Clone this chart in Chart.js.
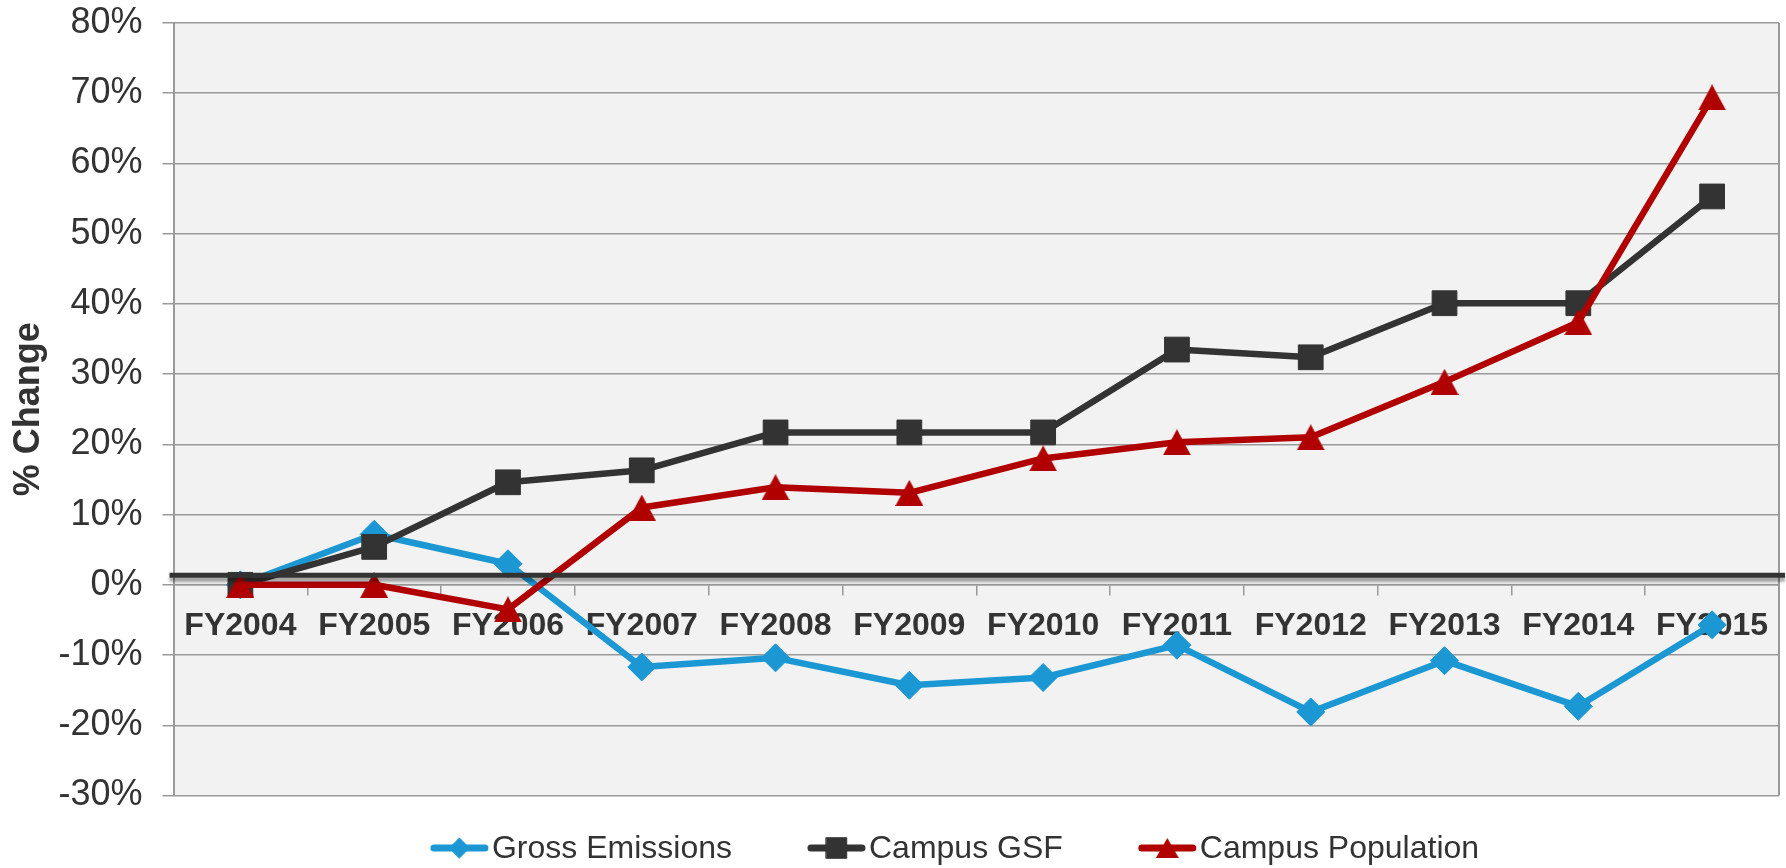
<!DOCTYPE html>
<html>
<head>
<meta charset="utf-8">
<title>% Change</title>
<script src="https://cdn.jsdelivr.net/npm/chart.js@4.4.1/dist/chart.umd.min.js"></script>
<style>
  html, body { margin: 0; padding: 0; background: #fff; }
  #wrap { width: 1786px; height: 868px; }
</style>
</head>
<body>
<div id="wrap"><canvas id="chart"></canvas></div>
<script>
// values (percent change vs FY2004)
const years = ['FY2004', 'FY2005', 'FY2006', 'FY2007', 'FY2008', 'FY2009',
               'FY2010', 'FY2011', 'FY2012', 'FY2013', 'FY2014', 'FY2015'];
const grossEmissions   = [0, 7.2, 3.0, -11.7, -10.4, -14.3, -13.2, -8.6, -18.1, -10.8, -17.3, -5.7];
const campusGSF        = [0, 5.4, 14.6, 16.3, 21.7, 21.7, 21.7, 33.5, 32.4, 40.1, 40.1, 55.3];
const campusPopulation = [0, 0, -3.5, 11.0, 13.9, 13.1, 18.0, 20.3, 21.0, 28.9, 37.4, 69.4];
const yMin = -30, yMax = 80, yStep = 10;
const baselineValue = 1.35; // the heavy dark rule drawn just above 0%

const FONT = "'Liberation Sans', Arial, sans-serif";
const BLUE = '#1b98d4', DARK = '#333333', RED = '#b00000';

// triangle marker as an image so it sits centred on the value like the original
function triangle(w, h, color) {
    const c = document.createElement('canvas');
    c.width = w; c.height = h;
    const g = c.getContext('2d');
    g.fillStyle = color;
    g.beginPath();
    g.moveTo(w / 2, 0);
    g.lineTo(w, h);
    g.lineTo(0, h);
    g.closePath();
    g.fill();
    return c;
}
const triBig = triangle(28, 26, RED);
const triSmall = triangle(23, 20, RED);

const plotDecor = {
    id: 'plotDecor',
    beforeDraw(chart, args, opts) {
        const { ctx, chartArea: a } = chart;
        ctx.save();
        ctx.fillStyle = opts.background;
        ctx.fillRect(a.left, a.top, a.right - a.left, a.bottom - a.top);
        ctx.restore();
    },
    beforeDatasetsDraw(chart, args, opts) {
        const { ctx, chartArea: a } = chart;
        ctx.save();
        ctx.strokeStyle = opts.frameColor;
        ctx.lineWidth = 2;
        ctx.beginPath();
        ctx.moveTo(a.right, a.top);
        ctx.lineTo(a.right, a.bottom);
        ctx.stroke();
        ctx.restore();
    },
    afterDatasetsDraw(chart, args, opts) {
        const { ctx, chartArea: a } = chart;
        const y = chart.scales.y.getPixelForValue(baselineValue);
        ctx.save();
        ctx.shadowColor = 'rgba(0,0,0,0.35)';
        ctx.shadowOffsetY = 4;
        ctx.shadowBlur = 3;
        ctx.strokeStyle = opts.ruleColor;
        ctx.lineWidth = 5;
        ctx.beginPath();
        ctx.moveTo(a.left - 4, y);
        ctx.lineTo(a.right + 6, y);
        ctx.stroke();
        ctx.restore();
    }
};

// legend drawn as line + marker like the original
const lineLegend = {
    id: 'lineLegend',
    afterDraw(chart, args, opts) {
        const ctx = chart.ctx;
        ctx.save();
        ctx.font = opts.fontSize + 'px ' + FONT;
        const items = chart.data.datasets.map(ds => ({
            ds, w: opts.lineLength + opts.textGap + ctx.measureText(ds.label).width
        }));
        const total = items.reduce((s, it) => s + it.w, 0) + opts.itemGap * (items.length - 1);
        let x = opts.centerX - total / 2;
        const y = opts.y;
        items.forEach(({ ds, w }) => {
            ctx.strokeStyle = ds.borderColor;
            ctx.fillStyle = ds.borderColor;
            ctx.lineWidth = opts.lineWidth;
            ctx.lineCap = 'round';
            ctx.beginPath();
            ctx.moveTo(x + 3, y);
            ctx.lineTo(x + opts.lineLength - 3, y);
            ctx.stroke();
            ctx.lineWidth = 1;
            Chart.helpers.drawPoint(ctx, {
                pointStyle: ds.legendStyle, radius: ds.legendRadius, borderWidth: 1, rotation: 0
            }, x + opts.lineLength / 2, y);
            ctx.fillStyle = opts.color;
            ctx.textAlign = 'left';
            ctx.textBaseline = 'middle';
            ctx.fillText(ds.label, x + opts.lineLength + opts.textGap, y + 1);
            x += w + opts.itemGap;
        });
        ctx.restore();
    }
};

const ctx = document.getElementById('chart').getContext('2d');
new Chart(ctx, {
    type: 'line',
    data: {
        labels: years,
        datasets: [{
            label: 'Gross Emissions',
            data: grossEmissions,
            borderColor: BLUE,
            backgroundColor: BLUE,
            pointStyle: 'rectRot',
            pointRadius: 14,
            legendStyle: 'rectRot',
            legendRadius: 10,
            order: 2
        }, {
            label: 'Campus GSF',
            data: campusGSF,
            borderColor: DARK,
            backgroundColor: DARK,
            pointStyle: 'rect',
            pointRadius: 17.5,
            legendStyle: 'rect',
            legendRadius: 14.5,
            order: 1
        }, {
            label: 'Campus Population',
            data: campusPopulation,
            borderColor: RED,
            backgroundColor: RED,
            pointStyle: triBig,
            pointRadius: 14,
            legendStyle: triSmall,
            legendRadius: 12,
            order: 0
        }]
    },
    options: {
        responsive: true,
        maintainAspectRatio: false,
        animation: false,
        elements: {
            line: { borderWidth: 6.5, tension: 0, borderJoinStyle: 'round', borderCapStyle: 'round', fill: false },
            point: { borderWidth: 1, hoverRadius: 14 }
        },
        layout: { autoPadding: false, padding: { left: 4, right: 7, top: 23, bottom: 72.5 } },
        scales: {
            x: {
                position: { y: 0 },
                offset: true,
                grid: {
                    drawOnChartArea: false,
                    drawTicks: true,
                    tickLength: 10,
                    color: '#999',
                    lineWidth: 1.5,
                    offset: true
                },
                border: { display: true, color: '#999', width: 1.5 },
                ticks: {
                    autoSkip: false,
                    maxRotation: 0,
                    padding: 12,
                    color: '#333',
                    font: { family: FONT, size: 32, weight: 'bold' }
                }
            },
            y: {
                min: yMin,
                max: yMax,
                // keep the axis as wide as the original and stop the label
                // padding from pushing the plot down
                afterFit: s => {
                    s.width = 169.5;
                    s.paddingTop = 0;
                    s.paddingBottom = 0;
                },
                ticks: {
                    stepSize: yStep,
                    padding: 20,
                    color: '#333',
                    font: { family: FONT, size: 36 },
                    callback: v => v + '%'
                },
                grid: { color: '#999', lineWidth: 1.5, tickLength: 11 },
                border: { color: '#999', width: 2 },
                title: {
                    display: true,
                    text: '% Change',
                    color: '#333',
                    padding: { top: 3, bottom: 4 },
                    font: { family: FONT, size: 36, weight: 'bold' }
                }
            }
        },
        plugins: {
            legend: { display: false },
            tooltip: { enabled: false },
            plotDecor: { background: '#f2f2f2', frameColor: '#999', ruleColor: '#333' },
            lineLegend: {
                centerX: 955, y: 848, fontSize: 32, color: '#333',
                lineLength: 57, lineWidth: 7, textGap: 4, itemGap: 76
            }
        }
    },
    plugins: [plotDecor, lineLegend]
});
</script>
</body>
</html>
